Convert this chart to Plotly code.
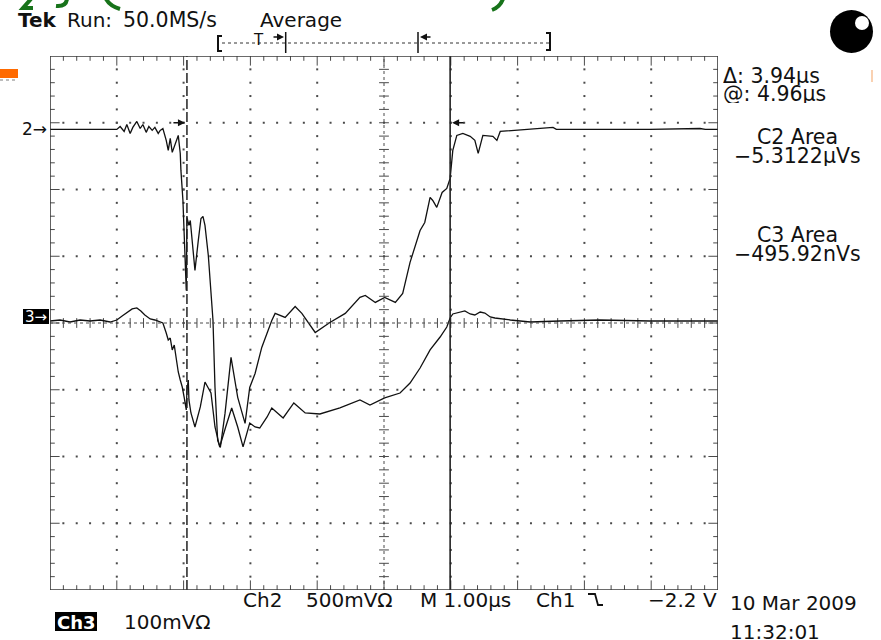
import numpy as np
import plotly.graph_objects as go

# ---------------- acquisition settings ----------------
TIME_PER_DIV_US = 1.00      # M 1.00 µs
CH2_V_PER_DIV = 0.5         # Ch2 500 mV
CH3_MV_PER_DIV = 100.0      # Ch3 100 mV
CH2_GND_DIV = 2.9           # ground marker positions (divisions from centre)
CH3_GND_DIV = 0.03
CURSOR2_US = 5.99           # solid cursor (screen time)
CURSOR_DELTA_US = 3.94      # Δ between cursors
CURSOR1_US = CURSOR2_US - CURSOR_DELTA_US

# ---------------- Ch2 waveform (µs, V) ----------------
ch2_t_us = [0.00, 1.00, 1.05, 1.11, 1.15, 1.20, 1.24, 1.30, 1.35, 1.39, 1.44, 1.48,
            1.53, 1.57, 1.62, 1.65, 1.69, 1.74, 1.77, 1.80, 1.83, 1.87, 1.92, 1.95,
            1.96, 1.99, 2.01, 2.02, 2.04, 2.05, 2.08, 2.10, 2.13, 2.17, 2.22, 2.26,
            2.29, 2.32, 2.37, 2.41, 2.44, 2.47, 2.51, 2.55, 2.62, 2.71, 2.81, 2.92,
            2.99, 3.07, 3.17, 3.32, 3.37, 3.52, 3.67, 3.77, 3.97, 4.19, 4.42, 4.64,
            4.72, 4.87, 5.01, 5.17, 5.28, 5.39, 5.46, 5.54, 5.61, 5.69, 5.73, 5.79,
            5.87, 5.94, 5.99, 6.03, 6.09, 6.18, 6.29, 6.36, 6.41, 6.48, 6.63, 6.69,
            6.74, 7.19, 7.53, 7.58, 8.23, 8.98, 9.73, 9.81, 10.00]
ch2_volts = [0.000, 0.000, 0.022, -0.015, 0.037, -0.030, 0.015, 0.060, 0.007, 0.037, -0.022, 0.022,
             -0.007, 0.015, -0.030, -0.007, 0.007, -0.082, -0.157, -0.067, -0.172, -0.120, -0.045, -0.180,
             -0.307, -0.532, -0.831, -1.056, -1.206, -0.659, -0.719, -0.682, -0.869, -1.056, -0.831, -0.667,
             -0.652, -0.719, -0.944, -1.206, -1.431, -1.933, -2.330, -2.382, -2.127, -1.708, -2.007, -2.202,
             -1.933, -1.828, -1.633, -1.431, -1.378, -1.408, -1.326, -1.378, -1.521, -1.446, -1.378, -1.258,
             -1.243, -1.296, -1.258, -1.296, -1.228, -0.996, -0.891, -0.757, -0.697, -0.509, -0.532, -0.584,
             -0.472, -0.442, -0.367, -0.157, -0.045, -0.030, -0.052, -0.082, -0.180, -0.045, -0.052, -0.082,
             -0.015, 0.000, 0.015, 0.000, 0.000, 0.000, 0.007, 0.000, 0.000]

# ---------------- Ch3 waveform (µs, mV) ----------------
ch3_t_us = [0.00, 0.15, 0.30, 0.45, 0.60, 0.75, 0.90, 1.00, 1.08, 1.15, 1.23, 1.30,
            1.36, 1.42, 1.50, 1.57, 1.65, 1.69, 1.74, 1.77, 1.80, 1.83, 1.86, 1.89,
            1.92, 1.95, 1.98, 2.01, 2.04, 2.05, 2.07, 2.08, 2.11, 2.17, 2.25, 2.32,
            2.41, 2.47, 2.54, 2.63, 2.72, 2.81, 2.89, 2.99, 3.07, 3.14, 3.25, 3.32,
            3.49, 3.65, 3.82, 4.04, 4.34, 4.64, 4.79, 5.01, 5.24, 5.39, 5.54, 5.69,
            5.84, 5.94, 5.99, 6.03, 6.11, 6.21, 6.29, 6.36, 6.44, 6.51, 6.59, 6.66,
            6.89, 7.19, 7.63, 8.23, 8.98, 9.73, 10.00]
ch3_millivolts = [0.0, 1.5, -1.5, 1.5, 0.0, 1.5, -1.5, 1.5, 7.5, 12.0, 18.0, 19.5,
                  15.0, 9.0, 3.0, 1.5, -1.5, -3.0, -18.0, -28.5, -25.5, -43.4, -36.0, -58.4,
                  -76.4, -88.4, -98.9, -115.3, -133.3, -103.4, -88.4, -118.3, -137.8, -158.8, -128.8, -91.4,
                  -107.9, -158.8, -188.7, -158.8, -130.3, -158.8, -188.7, -152.8, -158.8, -160.3, -143.8, -130.3,
                  -145.3, -122.8, -137.8, -139.3, -130.3, -118.3, -125.8, -115.3, -107.9, -92.9, -70.4, -43.4,
                  -24.0, -9.0, 4.5, 10.5, 12.0, 15.0, 10.5, 9.0, 13.5, 12.0, 6.0, 4.5,
                  1.5, -1.5, 0.0, 1.5, 0.0, 0.0, 0.0]

# ---------------- readout texts ----------------
header_words = ["Tek", "Run:", "50.0MS/s", "Average"]
cursor_readout = ["\u0394: 3.94\u00b5s", "@: 4.96\u00b5s"]
area_readout = [("C2 Area", "\u22125.3122\u00b5Vs"), ("C3 Area", "\u2212495.92nVs")]
scale_readout = ["Ch2", "500mV\u03a9", "M 1.00\u00b5s", "Ch1", "\u22122.2 V"]
ch3_readout = ["Ch3", "100mV\u03a9"]
stamp = ["10 Mar 2009", "11:32:01"]

# ---------------- page geometry ----------------
W, H = 881, 640
ML, MR, MT, MB = 50, 163, 56, 50
NX, NY = 10, 8


def px(x):
    return (x - ML) / (W - ML - MR)


def py(y):
    return (H - MB - y) / (H - MT - MB)


INK = "#111111"
GRID = "#4a4a4a"
FONT = "DejaVu Sans"

fig = go.Figure()

# graticule dots on the division lines
minor_x = np.round(np.arange(0.2, NX, 0.2), 3)
minor_y = np.round(np.arange(-NY / 2 + 0.2, NY / 2, 0.2), 3)
gx, gy = [], []
for k in range(1, NX):
    if k == NX // 2:
        continue
    gx += [k] * len(minor_y)
    gy += list(minor_y)
for m in range(-NY // 2 + 1, NY // 2):
    if m == 0:
        continue
    gx += list(minor_x)
    gy += [m] * len(minor_x)
fig.add_trace(go.Scatter(x=gx, y=gy, mode="markers", hoverinfo="skip",
                         marker=dict(symbol="square", size=2, color=GRID, line=dict(width=0))))


def ticks(xs, ys, symbol, size):
    fig.add_trace(go.Scatter(x=xs, y=ys, mode="markers", hoverinfo="skip",
                             marker=dict(symbol=symbol, size=size,
                                         line=dict(width=1, color=GRID))))


# border ticks (pointing inward)
is_major_x = [abs(v - round(v)) < 1e-6 for v in minor_x]
is_major_y = [abs(v - round(v)) < 1e-6 for v in minor_y]
edge = 0.03
for ypos, sgn in ((NY / 2, -1), (-NY / 2, 1)):
    ticks([v for v, mj in zip(minor_x, is_major_x) if not mj],
          [ypos + sgn * edge] * sum(not m for m in is_major_x), "line-ns", 4)
    ticks([v for v, mj in zip(minor_x, is_major_x) if mj],
          [ypos + sgn * 2 * edge] * sum(is_major_x), "line-ns", 8)
for xpos, sgn in ((0, 1), (NX, -1)):
    ticks([xpos + sgn * edge] * sum(not m for m in is_major_y),
          [v for v, mj in zip(minor_y, is_major_y) if not mj], "line-ew", 4)
    ticks([xpos + sgn * 2 * edge] * sum(is_major_y),
          [v for v, mj in zip(minor_y, is_major_y) if mj], "line-ew", 8)

# centre cross ticks
ticks([NX / 2] * len(minor_y), list(minor_y), "line-ew", 7)
ticks(list(minor_x), [0] * len(minor_x), "line-ns", 7)

# waveforms
ch2_x = np.array(ch2_t_us) / TIME_PER_DIV_US
ch2_y = CH2_GND_DIV + np.array(ch2_volts) / CH2_V_PER_DIV
ch3_x = np.array(ch3_t_us) / TIME_PER_DIV_US
ch3_y = CH3_GND_DIV + np.array(ch3_millivolts) / CH3_MV_PER_DIV
for xs, ys in ((ch2_x, ch2_y), (ch3_x, ch3_y)):
    fig.add_trace(go.Scatter(x=xs, y=ys, mode="lines", hoverinfo="skip",
                             line=dict(color=INK, width=1.3)))

shapes = []
# centre dotted cross
shapes.append(dict(type="line", xref="x", yref="y", x0=NX / 2, x1=NX / 2, y0=-NY / 2, y1=NY / 2,
                   line=dict(color=GRID, width=1, dash="dot")))
shapes.append(dict(type="line", xref="x", yref="y", x0=0, x1=NX, y0=0, y1=0,
                   line=dict(color=GRID, width=1, dash="dot")))
# cursors
shapes.append(dict(type="line", xref="x", yref="y", x0=CURSOR1_US, x1=CURSOR1_US, y0=-NY / 2, y1=NY / 2,
                   line=dict(color="#222", width=1.5, dash="10px,3px")))
shapes.append(dict(type="line", xref="x", yref="y", x0=CURSOR2_US, x1=CURSOR2_US, y0=-NY / 2, y1=NY / 2,
                   line=dict(color="#222", width=1.6)))
# screen border
shapes.append(dict(type="rect", xref="x", yref="y", x0=0, x1=NX, y0=-NY / 2, y1=NY / 2,
                   line=dict(color="#3a3a3a", width=1.6)))


def pline(x0, y0, x1, y1, color=INK, width=1.5, dash=None):
    ln = dict(color=color, width=width)
    if dash:
        ln["dash"] = dash
    shapes.append(dict(type="line", xref="paper", yref="paper",
                       x0=px(x0), y0=py(y0), x1=px(x1), y1=py(y1), line=ln))


def ppath(points, color=INK, width=1.5):
    d = "M " + " L ".join(f"{px(a):.5f},{py(b):.5f}" for a, b in points)
    shapes.append(dict(type="path", xref="paper", yref="paper", path=d,
                       line=dict(color=color, width=width)))


def pquad(p0, c, p1, color, width):
    d = (f"M {px(p0[0]):.5f},{py(p0[1]):.5f} Q {px(c[0]):.5f},{py(c[1]):.5f} "
         f"{px(p1[0]):.5f},{py(p1[1]):.5f}")
    shapes.append(dict(type="path", xref="paper", yref="paper", path=d,
                       line=dict(color=color, width=width)))


def prect(x0, y0, x1, y1, fill):
    shapes.append(dict(type="rect", xref="paper", yref="paper", x0=px(x0), x1=px(x1),
                       y0=py(y1), y1=py(y0), fillcolor=fill, line=dict(width=0)))


# record / trigger bar above the screen
pline(222, 43, 549, 43, color="#333", width=1, dash="dot")
ppath([(222, 36), (218, 36), (218, 51), (222, 51)], width=2)
ppath([(546, 33), (550, 33), (550, 50), (546, 50)], width=2)
pline(285.7, 32, 285.7, 53, width=1.5)
pline(418, 32, 418, 53, width=1.5)
# falling-edge trigger glyph
ppath([(588, 594), (595, 594), (598, 605), (603, 605)], width=1.8)

# cropped title strokes and page decorations
GREEN = "#17731a"
ppath([(31, -1), (23, 8), (33, 8)], color=GREEN, width=4)
pquad((67, -1), (66, 7), (56, 6), GREEN, 4)
pquad((106, -1), (110, 6), (120, 9), GREEN, 4)
pquad((503, -1), (500, 7), (492, 10), GREEN, 4)
prect(0, 69, 18, 78, "#ff6a00")
pline(0, 80, 18, 80, color="#bdbdbd", width=2, dash="dot")
pline(872, 70, 872, 82, color="#f6b27e", width=1.2)
# status lamp
shapes.append(dict(type="circle", xref="paper", yref="paper", x0=px(830), x1=px(873), y0=py(53), y1=py(10),
                   fillcolor="black", line=dict(width=0)))
shapes.append(dict(type="circle", xref="paper", yref="paper", x0=px(855), x1=px(869), y0=py(30), y1=py(16),
                   fillcolor="white", line=dict(width=0)))
# inverse-video label boxes
prect(23, 309, 49, 324, "black")
prect(55, 612, 97, 631, "black")

ann = []


def text(t, x, y, size, anchor="left", color=INK, bold=False, box_h=None):
    a = dict(text=f"<b>{t}</b>" if bold else t, xref="paper", yref="paper", x=px(x), y=py(y),
             xanchor=anchor, yanchor="middle", showarrow=False,
             font=dict(family=FONT, size=size, color=color), borderpad=0)
    if box_h:
        a["height"] = box_h
    ann.append(a)


def arrow(x_tip, y_tip, dx, xref="paper", yref="paper"):
    ann.append(dict(x=x_tip, y=y_tip, ax=dx, ay=0, xref=xref, yref=yref, text="",
                    showarrow=True, arrowhead=2, arrowsize=1, arrowwidth=1.4, arrowcolor=INK))


# header
text(header_words[0], 17, 20, 20, bold=True)
text(header_words[1], 66, 20, 20)
text(header_words[2], 122, 20, 20.5)
text(header_words[3], 259, 20, 20)
text("T", 252, 40, 15)
# arrows on the record bar
arrow(px(284), py(37), -12)
arrow(px(420), py(37), 12)
# cursor arrows on screen
arrow(CURSOR1_US - 0.03, 3.0, -13, "x", "y")
arrow(CURSOR2_US + 0.03, 3.0, 13, "x", "y")

# channel ground markers
ann.append(dict(text="2\u2192", xref="paper", yref="y", x=px(49), y=CH2_GND_DIV, xanchor="right",
                yanchor="middle", showarrow=False, font=dict(family=FONT, size=17, color=INK)))
text("3\u2192", 48, 316, 15, anchor="right", color="white", box_h=15)

# right-hand readouts
text(cursor_readout[0], 722, 76, 20.5, box_h=18)
text(cursor_readout[1], 722, 94, 20.5, box_h=18)
text(area_readout[0][0], 797, 136, 20.5, anchor="center", box_h=19)
text(area_readout[0][1], 797, 156, 20.5, anchor="center", box_h=20)
text(area_readout[1][0], 797, 234, 20.5, anchor="center", box_h=19)
text(area_readout[1][1], 797, 254, 20.5, anchor="center", box_h=20)

# bottom readouts
text(scale_readout[0], 242, 600, 20)
text(scale_readout[1], 305, 600, 20)
text(scale_readout[2], 419, 600, 20)
text(scale_readout[3], 535, 600, 20)
text(scale_readout[4], 718, 600, 20, anchor="right")
text(stamp[0], 729, 603, 20, box_h=20)
text(stamp[1], 729, 631.5, 20, box_h=17)
text(ch3_readout[0], 76, 622, 18, anchor="center", color="white", bold=True, box_h=18)
text(ch3_readout[1], 123, 622, 20, box_h=20)

fig.update_layout(
    width=W, height=H,
    margin=dict(l=ML, r=MR, t=MT, b=MB, pad=0),
    paper_bgcolor="white", plot_bgcolor="white",
    showlegend=False,
    xaxis=dict(range=[0, NX], visible=False, fixedrange=True),
    yaxis=dict(range=[-NY / 2, NY / 2], visible=False, fixedrange=True),
    shapes=shapes, annotations=ann,
)

fig.write_html("out.html")
